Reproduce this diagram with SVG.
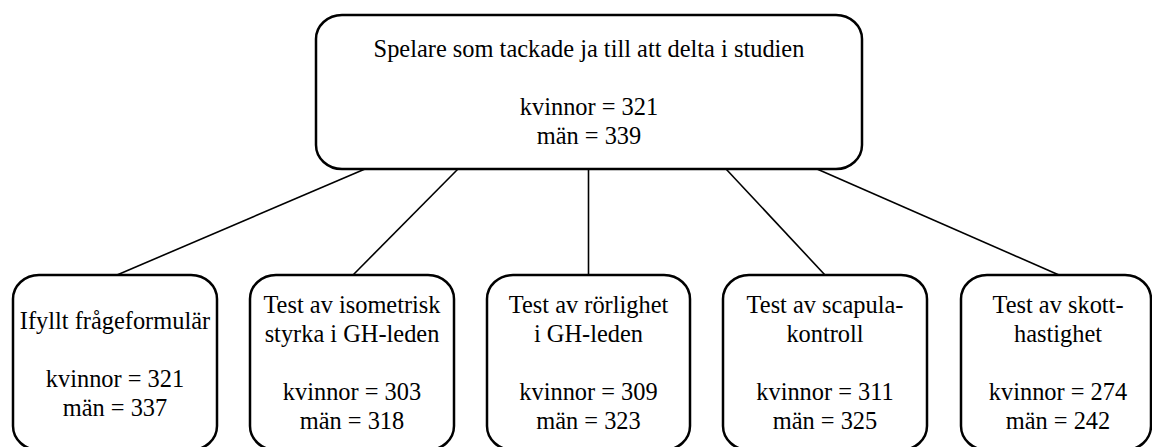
<svg xmlns="http://www.w3.org/2000/svg" width="1152" height="447" viewBox="0 0 1152 447">
<style>
.box{fill:#fff;stroke:#000;stroke-width:2.5}
.t{font-family:'Liberation Serif','Times New Roman',Tinos,serif;font-size:24.4px;fill:#000;text-anchor:middle}
.c line{stroke:#000;stroke-width:1.6}
</style>
<rect width="1152" height="447" fill="#fff"/>
<g id="connectors" class="c">
<line x1="365" y1="169" x2="117" y2="275"/>
<line x1="458" y1="169" x2="353" y2="275"/>
<line x1="588.5" y1="169" x2="588.5" y2="275"/>
<line x1="726" y1="169" x2="825" y2="275"/>
<line x1="817" y1="169" x2="1059" y2="275"/>
</g>
<g id="top">
<rect class="box" x="316" y="15" width="546" height="154" rx="26" ry="24"/>
<text class="t" x="589" y="57">Spelare som tackade ja till att delta i studien</text>
<text class="t" x="589" y="115">kvinnor = 321</text>
<text class="t" x="589" y="144">män = 339</text>
</g>
<g id="n1">
<rect class="box" x="13" y="275" width="204" height="175" rx="26" ry="24"/>
<text class="t" x="115" y="329">Ifyllt frågeformulär</text>
<text class="t" x="115" y="387">kvinnor = 321</text>
<text class="t" x="115" y="416">män = 337</text>
</g>
<g id="n2">
<rect class="box" x="250" y="275" width="204" height="175" rx="26" ry="24"/>
<text class="t" x="352" y="313">Test av isometrisk</text>
<text class="t" x="352" y="342">styrka i GH-leden</text>
<text class="t" x="352" y="400">kvinnor = 303</text>
<text class="t" x="352" y="429">män = 318</text>
</g>
<g id="n3">
<rect class="box" x="487" y="275" width="203" height="175" rx="26" ry="24"/>
<text class="t" x="588.5" y="313">Test av rörlighet</text>
<text class="t" x="588.5" y="342">i GH-leden</text>
<text class="t" x="588.5" y="400">kvinnor = 309</text>
<text class="t" x="588.5" y="429">män = 323</text>
</g>
<g id="n4">
<rect class="box" x="723" y="275" width="204" height="175" rx="26" ry="24"/>
<text class="t" x="825" y="313">Test av scapula-</text>
<text class="t" x="825" y="342">kontroll</text>
<text class="t" x="825" y="400">kvinnor = 311</text>
<text class="t" x="825" y="429">män = 325</text>
</g>
<g id="n5">
<rect class="box" x="961" y="275" width="190" height="175" rx="26" ry="24"/>
<text class="t" x="1058" y="313">Test av skott-</text>
<text class="t" x="1058" y="342">hastighet</text>
<text class="t" x="1058" y="400">kvinnor = 274</text>
<text class="t" x="1058" y="429">män = 242</text>
</g>
</svg>
